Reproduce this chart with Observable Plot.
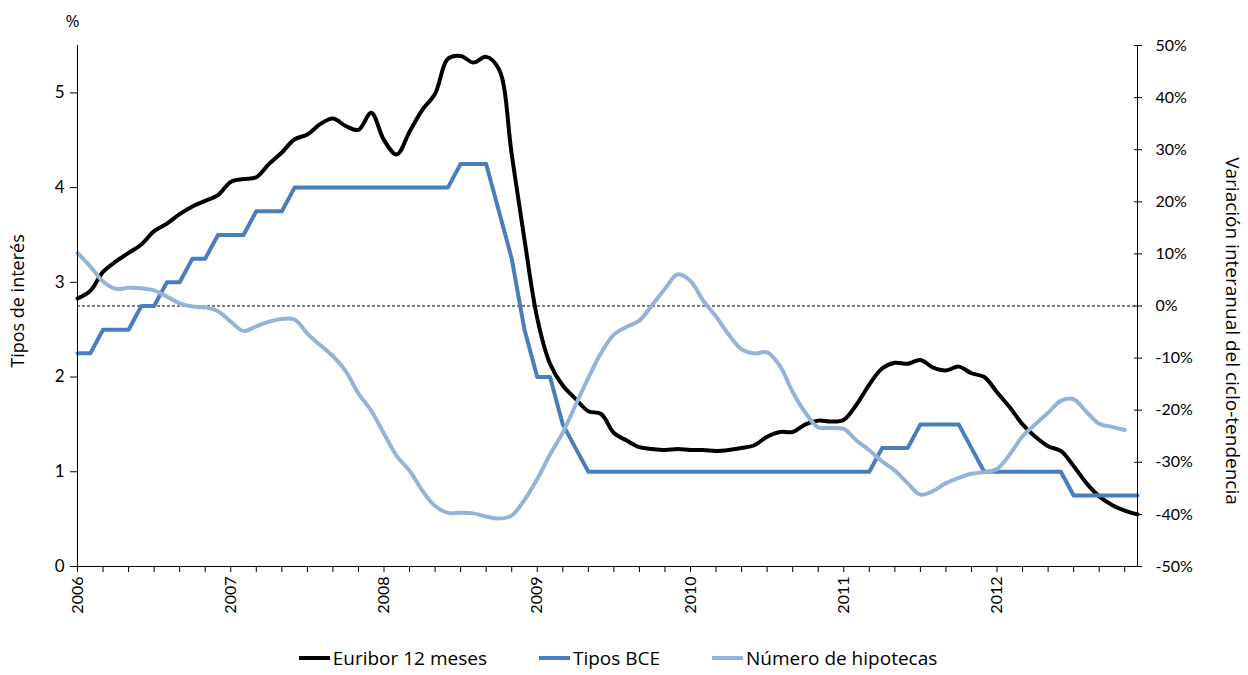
<!DOCTYPE html>
<html><head><meta charset="utf-8">
<script src="https://cdn.jsdelivr.net/npm/d3@7"></script>
<script src="https://cdn.jsdelivr.net/npm/@observablehq/plot@0.6"></script>
<style>
body{margin:0;background:#fff;font-family:"Open Sans", Lato, sans-serif;}
#legend{display:flex;justify-content:center;gap:52px;font-size:19px;color:#000;margin-top:3px;padding-right:12px;height:30px;align-items:center}
.item{display:flex;align-items:center}
.sw{width:31px;height:4px;margin-right:3px}
</style></head><body>
<div id="chart"></div>
<div id="legend"></div>
<script>
const yearLabels = ["2006","2007","2008","2009","2010","2011","2012"];
const seriesNames = ["Euribor 12 meses","Tipos BCE","Número de hipotecas"];
const colors = ["#000000","#4a7ebb","#95b3d7"];
const leftTicks = [0,1,2,3,4,5];
const rightTicks = [-50,-40,-30,-20,-10,0,10,20,30,40,50];

// Euribor 12 meses, monthly Jan 2006 - Dec 2012 (%)
const euribor = [
 2.83,2.91,3.11,3.22,3.31,3.40,3.54,3.62,3.72,3.80,3.86,3.92,
 4.06,4.09,4.11,4.25,4.37,4.51,4.56,4.67,4.73,4.65,4.61,4.79,
 4.50,4.35,4.59,4.82,4.99,5.36,5.39,5.32,5.38,5.25,4.35,3.45,
 2.62,2.14,1.91,1.77,1.64,1.61,1.41,1.33,1.26,1.24,1.23,1.24,
 1.23,1.23,1.22,1.23,1.25,1.28,1.37,1.42,1.42,1.50,1.54,1.53,
 1.55,1.71,1.92,2.09,2.15,2.14,2.18,2.10,2.07,2.11,2.04,2.00,
 1.84,1.68,1.50,1.37,1.27,1.22,1.06,0.88,0.74,0.65,0.59,0.55
];
// Tipos BCE, monthly Jan 2006 - Dec 2012 (%)
const tiposBCE = [
 2.25,2.25,2.50,2.50,2.50,2.75,2.75,3.00,3.00,3.25,3.25,3.50,
 3.50,3.50,3.75,3.75,3.75,4.00,4.00,4.00,4.00,4.00,4.00,4.00,
 4.00,4.00,4.00,4.00,4.00,4.00,4.25,4.25,4.25,3.75,3.25,2.50,
 2.00,2.00,1.50,1.25,1.00,1.00,1.00,1.00,1.00,1.00,1.00,1.00,
 1.00,1.00,1.00,1.00,1.00,1.00,1.00,1.00,1.00,1.00,1.00,1.00,
 1.00,1.00,1.00,1.25,1.25,1.25,1.50,1.50,1.50,1.50,1.25,1.00,
 1.00,1.00,1.00,1.00,1.00,1.00,0.75,0.75,0.75,0.75,0.75,0.75
];
// Número de hipotecas, variación interanual del ciclo-tendencia (%), Jan 2006 - Nov 2012
const hipotecas = [
 10.2,7.6,4.7,3.3,3.5,3.4,3.0,1.8,0.5,-0.1,-0.3,-1.0,
 -3.0,-4.8,-3.9,-3.0,-2.5,-2.6,-5.3,-7.5,-9.6,-12.5,-16.8,-20.1,
 -24.5,-28.8,-31.6,-35.4,-38.4,-39.7,-39.7,-39.8,-40.4,-40.8,-40.2,-37.2,
 -33.2,-28.5,-24.3,-19.0,-13.8,-9.0,-5.5,-4.0,-2.8,0.2,3.3,6.1,
 4.8,1.0,-2.0,-5.5,-8.3,-9.1,-8.9,-11.5,-16.5,-20.5,-23.3,-23.4,
 -23.6,-25.8,-27.7,-29.8,-31.6,-34.0,-36.2,-35.5,-34.0,-33.0,-32.2,-31.9,
 -31.3,-28.5,-25.0,-22.7,-20.5,-18.2,-17.9,-20.3,-22.6,-23.2,-23.8
];

const leftMax = 5.5;
const toLeft = p => (p + 50) / 100 * leftMax;
const toPct = v => Math.round(v / leftMax * 100 - 50);

const eurData = euribor.map((v,i) => ({i, v}));
const bceData = tiposBCE.map((v,i) => ({i, v}));
const hipData = hipotecas.map((p,i) => ({i, v: toLeft(p)}));
const nMonths = euribor.length - 1;

const tickFont = "Lato, 'Open Sans', sans-serif";
const labelFont = "'Open Sans', Lato, sans-serif";

const chart = Plot.plot({
  width: 1248, height: 640,
  marginLeft: 77, marginRight: 111, marginTop: 45, marginBottom: 74,
  style: {fontFamily: tickFont, fontSize: "16px", color: "#000", background: "#fff"},
  x: {type: "linear", domain: [0, nMonths], label: null},
  y: {domain: [0, leftMax], label: null},
  marks: [
    Plot.ruleY([toLeft(0)], {stroke: "#000", strokeWidth: 1, strokeDasharray: "3,2"}),
    Plot.line(eurData, {x: "i", y: "v", stroke: colors[0], strokeWidth: 4, curve: "catmull-rom"}),
    Plot.line(bceData, {x: "i", y: "v", stroke: colors[1], strokeWidth: 4}),
    Plot.line(hipData, {x: "i", y: "v", stroke: colors[2], strokeWidth: 4, curve: "catmull-rom"}),
    Plot.ruleX([0], {stroke: "#000", strokeWidth: 1}),
    Plot.ruleX([nMonths], {stroke: "#000", strokeWidth: 1}),
    Plot.ruleY([0], {stroke: "#000", strokeWidth: 1}),
    Plot.axisX({ticks: d3.range(0, nMonths, 2), tickSize: 6, tickPadding: 4, tickRotate: -90,
      tickFormat: i => i % 12 === 0 ? yearLabels[i / 12] : "", label: null, fontSize: 16}),
    Plot.axisY({anchor: "left", ticks: leftTicks, tickFormat: d => String(d), tickSize: 7, tickPadding: 6, label: null, fontSize: 17}),
    Plot.axisY({anchor: "right", ticks: rightTicks.map(toLeft), tickFormat: v => `${toPct(v)}%`,
      tickSize: 8, dx: -4, tickPadding: 14, label: null, fontSize: 16}),
    Plot.text(["%"], {frameAnchor: "top-left", dx: -5, dy: -31, fontSize: 17, textAnchor: "middle", fontFamily: labelFont}),
    Plot.text(["Tipos de interés"], {frameAnchor: "left", rotate: -90, textAnchor: "middle", dx: -59, dy: -5, fontSize: 18, fontFamily: labelFont}),
    Plot.text(["Variación interanual del ciclo-tendencia"], {frameAnchor: "right", rotate: 90, textAnchor: "middle", dx: 95, dy: 25, fontSize: 19, fontFamily: labelFont})
  ]
});
document.getElementById("chart").appendChild(chart);

const legend = document.getElementById("legend");
seriesNames.forEach((name, k) => {
  const item = document.createElement("div");
  item.className = "item";
  const sw = document.createElement("span");
  sw.className = "sw";
  sw.style.background = colors[k];
  const t = document.createElement("span");
  t.textContent = name;
  item.appendChild(sw); item.appendChild(t);
  legend.appendChild(item);
});
</script>
</body></html>
